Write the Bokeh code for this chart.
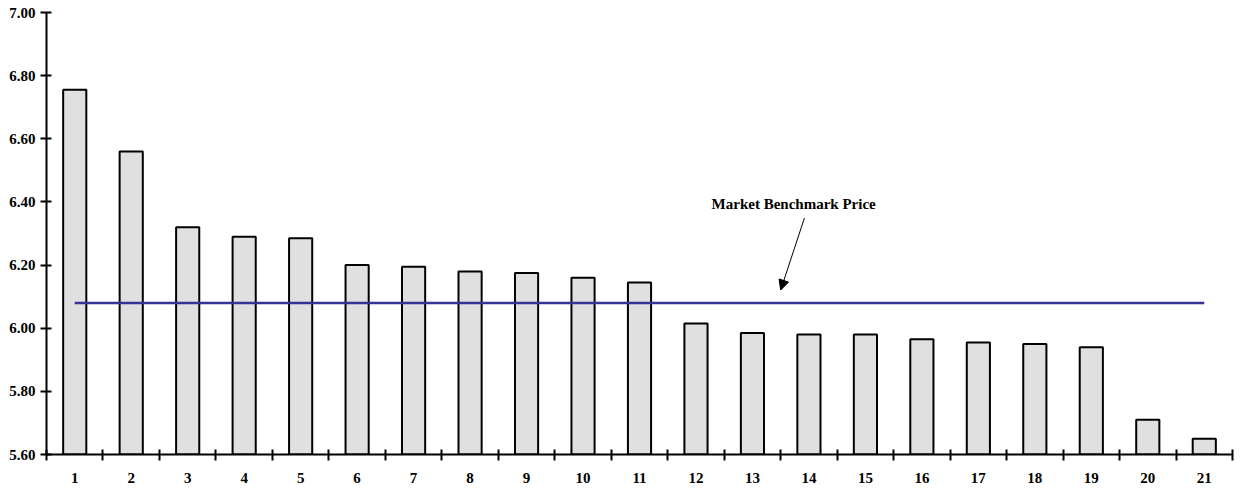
from bokeh.plotting import figure
from bokeh.models import Range1d, FixedTicker, Arrow, NormalHead, Label, ColumnDataSource
from bokeh.embed import file_html
from bokeh.resources import INLINE

categories = [str(i) for i in range(1, 22)]
prices = [6.755, 6.56, 6.32, 6.29, 6.285, 6.20, 6.195, 6.18, 6.175, 6.16, 6.145,
          6.015, 5.985, 5.98, 5.98, 5.965, 5.955, 5.95, 5.94, 5.71, 5.65]
benchmark = 6.08
benchmark_label = "Market Benchmark Price"
y_ticks = [5.6, 5.8, 6.0, 6.2, 6.4, 6.6, 6.8, 7.0]

xs = list(range(1, len(categories) + 1))
src = ColumnDataSource(dict(x=xs, top=prices, bottom=[y_ticks[0]] * len(xs)))

p = figure(width=1236, height=485, output_backend="svg", toolbar_location=None,
           x_range=Range1d(0.5, len(xs) + 0.5), y_range=Range1d(y_ticks[0], y_ticks[-1]),
           min_border_left=46, min_border_right=4, min_border_top=12, min_border_bottom=30)
p.outline_line_color = None
p.xgrid.visible = False
p.ygrid.visible = False

p.vbar(x="x", top="top", bottom="bottom", width=0.41, source=src,
       fill_color="#e0e0e0", line_color="black", line_width=2)

p.line(x=[xs[0], xs[-1]], y=[benchmark, benchmark], line_color="#333399", line_width=2.5)

font = "Liberation Serif"
p.xaxis.ticker = FixedTicker(ticks=xs, minor_ticks=[x - 0.5 for x in xs] + [xs[-1] + 0.5])
p.xaxis.major_label_overrides = {x: c for x, c in zip(xs, categories)}
p.xaxis.major_tick_in = 0
p.xaxis.major_tick_out = 0
p.xaxis.minor_tick_in = 5
p.xaxis.minor_tick_out = 6
p.xaxis.minor_tick_line_width = 2
p.xaxis.major_label_standoff = 12

p.yaxis.ticker = FixedTicker(ticks=y_ticks, minor_ticks=[])
p.yaxis.major_label_overrides = {t: f"{t:.2f}" for t in y_ticks}
p.yaxis.major_tick_in = 5
p.yaxis.major_tick_out = 6
p.yaxis.major_tick_line_width = 2
p.yaxis.major_label_standoff = 5

for ax in (p.xaxis, p.yaxis):
    ax.axis_line_width = 2
    ax.axis_line_color = "black"
    ax.major_label_text_font = font
    ax.major_label_text_font_style = "bold"
    ax.major_label_text_font_size = "15px"
    ax.major_label_text_color = "black"

p.add_layout(Arrow(end=NormalHead(size=10, fill_color="black", line_color="black"),
                   x_start=13.92, y_start=6.349, x_end=13.5, y_end=6.121,
                   line_color="black", line_width=1))
p.add_layout(Label(x=13.73, y=6.393, text=benchmark_label, text_align="center",
                   text_baseline="middle", text_font=font, text_font_style="bold",
                   text_font_size="15px", text_color="black"))

open("out.html", "w").write(file_html(p, INLINE))
